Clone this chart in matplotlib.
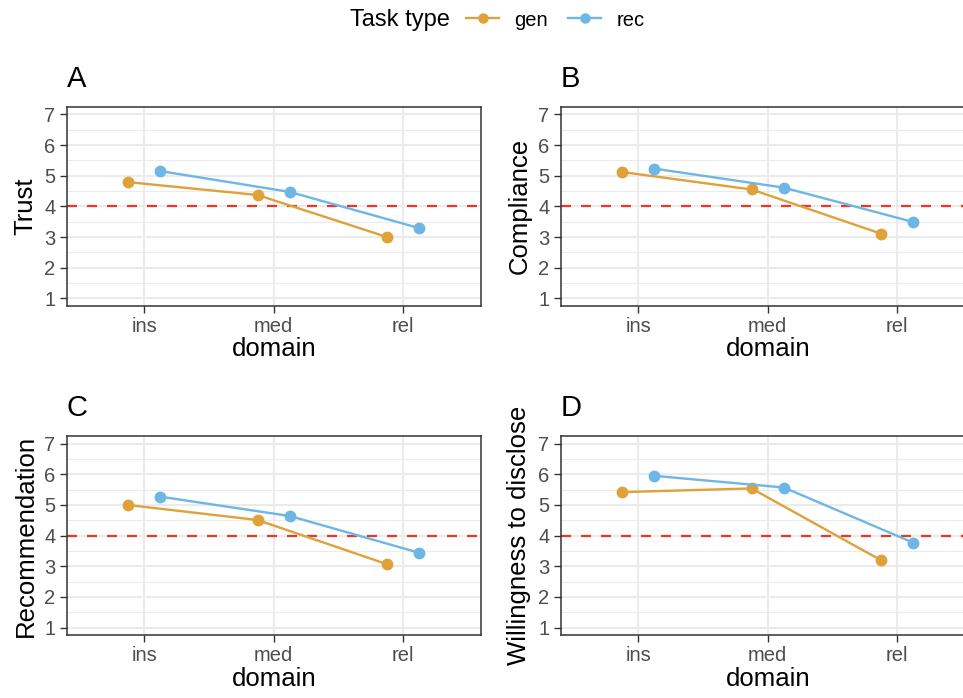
import numpy as np
import matplotlib
matplotlib.use("Agg")
import matplotlib.pyplot as plt
from matplotlib.lines import Line2D

plt.rcParams['font.family'] = ['Liberation Sans', 'DejaVu Sans']

domains = ['ins', 'med', 'rel']
task_types = ['gen', 'rec']
colors = {'gen': '#DFA13A', 'rec': '#6DB6E6'}

trust_gen = [4.79, 4.37, 3.00]
trust_rec = [5.15, 4.47, 3.29]
compliance_gen = [5.12, 4.55, 3.11]
compliance_rec = [5.23, 4.61, 3.49]
recommend_gen = [5.00, 4.51, 3.07]
recommend_rec = [5.27, 4.64, 3.44]
disclose_gen = [5.42, 5.54, 3.20]
disclose_rec = [5.95, 5.57, 3.77]

# standard errors (mostly hidden behind the points)
trust_err = [[0.09, 0.09, 0.09], [0.09, 0.09, 0.09]]
compliance_err = [[0.09, 0.09, 0.09], [0.09, 0.09, 0.09]]
recommend_err = [[0.09, 0.09, 0.09], [0.09, 0.09, 0.09]]
disclose_err = [[0.09, 0.09, 0.16], [0.09, 0.09, 0.16]]

panels = [
    ('A', 'Trust', trust_gen, trust_rec, trust_err),
    ('B', 'Compliance', compliance_gen, compliance_rec, compliance_err),
    ('C', 'Recommendation', recommend_gen, recommend_rec, recommend_err),
    ('D', 'Willingness to disclose', disclose_gen, disclose_rec, disclose_err),
]

W, H = 963, 698
fig = plt.figure(figsize=(W / 100, H / 100), dpi=100)

# panel boxes in pixels: left, top
boxes = [(66.7, 106.7), (560.7, 106.7), (66.7, 436.0), (560.7, 436.0)]
pw, ph = 414.0, 199.3
dodge = 0.125
x = np.arange(1, len(domains) + 1)

for (tag, ylab, gen, rec, err), (lx, ty) in zip(panels, boxes):
    ax = fig.add_axes([lx / W, 1 - (ty + ph) / H, pw / W, ph / H])
    ax.set_xlim(0.4, 3.6)
    ax.set_ylim(0.75, 7.25)

    ax.set_yticks(range(1, 8))
    ax.set_yticks(np.arange(1.5, 7, 1), minor=True)
    ax.set_xticks(x)
    ax.set_xticklabels(domains)
    ax.grid(True, which='major', color='#EBEBEB', lw=1.5, zorder=0)
    ax.grid(True, which='minor', axis='y', color='#EBEBEB', lw=0.8, zorder=0)
    ax.set_axisbelow(True)
    ax.tick_params(which='minor', length=0)
    ax.tick_params(which='major', length=5, width=1, color='#333333',
                   labelcolor='#4D4D4D', labelsize=14.5, pad=3)
    for s in ax.spines.values():
        s.set_color('#333333')
        s.set_linewidth(1.1)

    ax.axhline(4, color='#EE3526', lw=1.6, ls=(0, (4.5, 4.5)), zorder=2)

    for i, (name, vals) in enumerate(zip(task_types, [gen, rec])):
        xs = x + (-dodge if name == 'gen' else dodge)
        ax.errorbar(xs, vals, yerr=err[i], color=colors[name], lw=1.7,
                    marker='o', ms=7.5, capsize=0, elinewidth=1.7, zorder=3)

    ax.set_xlabel('domain', fontsize=18.5, labelpad=1)
    ax.set_ylabel(ylab, fontsize=18.5, labelpad=5)
    fig.text(lx / W, 1 - (ty - 20) / H, tag, fontsize=21, va='baseline', ha='left')

# legend at top
fig.text(350 / W, 1 - 20 / H, 'Task type', fontsize=17, va='center', ha='left')
handles = [Line2D([], [], color=colors[t], lw=1.7, marker='o', ms=6.5) for t in task_types]
fig.legend(handles, task_types, ncol=2, frameon=False, fontsize=14.5,
           loc='center left', bbox_to_anchor=(466 / W, 1 - 20 / H),
           borderpad=0, borderaxespad=0, handlelength=1.65, handletextpad=0.75,
           columnspacing=1.0)

fig.savefig('out.png', dpi=100)
